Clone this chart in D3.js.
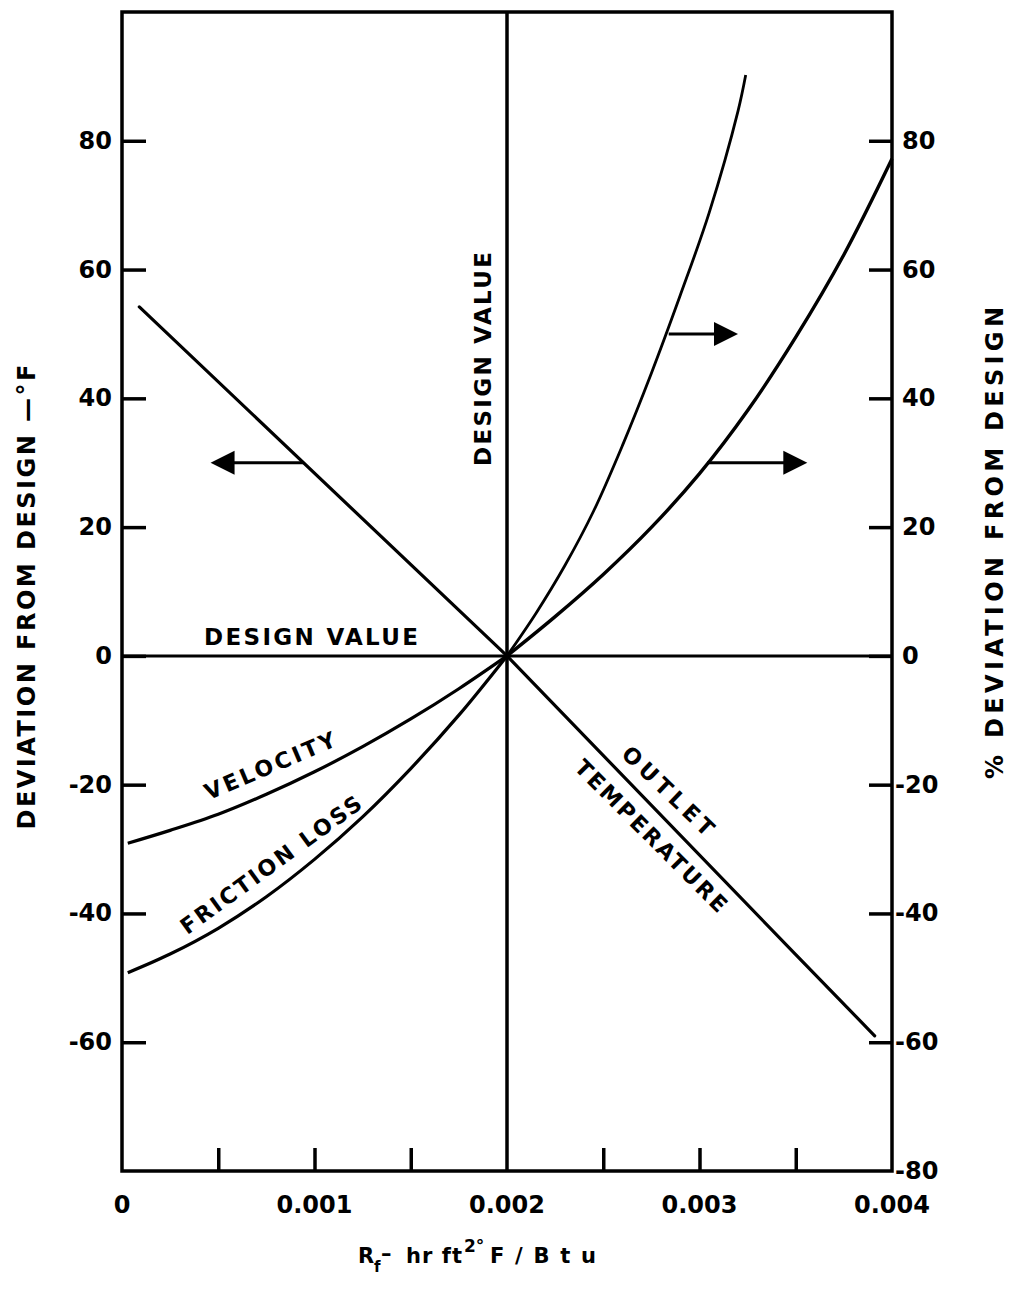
<!DOCTYPE html>
<html>
<head>
<meta charset="utf-8">
<script src="https://cdn.jsdelivr.net/npm/d3@7/dist/d3.min.js"></script>
<style>
  html, body { margin: 0; padding: 0; background: #fff; }
  svg { display: block; }
  text { font-family: "DejaVu Sans", sans-serif; font-weight: bold; fill: #000; }
</style>
</head>
<body>
<div id="chart"></div>
<script>
// ---------- data ----------
const xTickValues = [0, 0.001, 0.002, 0.003, 0.004];
const xTickLabels = ["0", "0.001", "0.002", "0.003", "0.004"];
const xMinorTicks = [0.0005, 0.001, 0.0015, 0.0025, 0.003, 0.0035];
const yTickValues = [80, 60, 40, 20, 0, -20, -40, -60];
const yRightTickValues = [80, 60, 40, 20, 0, -20, -40, -60, -80];

// Outlet temperature (left axis, deg F)
const outletRf  = [0.00009, 0.002, 0.0035, 0.00391];
const outletVal = [54.2, 0, -46.4, -59.0];

// Velocity (left axis)
const velocityRf  = [0.00003, 0.00025, 0.0005, 0.00075, 0.001, 0.00125, 0.0015, 0.00175, 0.002];
const velocityVal = [-29.1, -27.1, -24.6, -21.5, -18.0, -14.1, -9.8, -5.1, 0];

// Friction loss (left axis)
const frictionRf  = [0.00003, 0.00025, 0.0005, 0.00075, 0.001, 0.00125, 0.0015, 0.00175, 0.002];
const frictionVal = [-49.2, -46.3, -42.3, -37.4, -31.6, -25.0, -17.5, -9.2, 0];

// % deviation curves (right axis)
const steepRf  = [0.002, 0.00215, 0.0023, 0.00245, 0.0026, 0.00275, 0.0029, 0.00305, 0.0032, 0.00324];
const steepVal = [0, 6.6, 14.0, 22.5, 32.7, 43.9, 56.0, 68.8, 84.6, 90.2];

const gentleRf  = [0.002, 0.00225, 0.0025, 0.00275, 0.003, 0.00325, 0.0035, 0.00375, 0.004];
const gentleVal = [0, 6.1, 12.65, 19.95, 28.3, 38.1, 49.5, 62.3, 77.2];

// Arrows: y level, start Rf (on curve), tip Rf
const arrowY    = [30, 50, 30];
const arrowFrom = [0.000944, 0.00284, 0.00304];
const arrowTo   = [0.00046, 0.0032, 0.00356];

// ---------- layout ----------
const W = 1009, H = 1292;
const svg = d3.select("#chart").append("svg").attr("width", W).attr("height", H);

const x = d3.scaleLinear().domain([0, 0.004]).range([122, 892]);
const y = d3.scaleLinear().domain([-80, 100]).range([1171, 12]);

const ink = "#000";
const line = d3.line().x(d => x(d[0])).y(d => y(d[1]));
const smooth = d3.line().x(d => x(d[0])).y(d => y(d[1])).curve(d3.curveCatmullRom.alpha(0.5));
const zip = (a, b) => a.map((v, i) => [v, b[i]]);

// frame
svg.append("rect")
  .attr("x", x(0)).attr("y", y(100))
  .attr("width", x(0.004) - x(0)).attr("height", y(-80) - y(100))
  .attr("fill", "none").attr("stroke", ink).attr("stroke-width", 3.5);

// design value lines
svg.append("line").attr("x1", x(0)).attr("x2", x(0.004)).attr("y1", y(0)).attr("y2", y(0))
  .attr("stroke", ink).attr("stroke-width", 3);
svg.append("line").attr("x1", x(0.002)).attr("x2", x(0.002)).attr("y1", y(100)).attr("y2", y(-80))
  .attr("stroke", ink).attr("stroke-width", 3.5);

// left axis ticks (inward)
const leftAxis = d3.axisRight(y).tickValues(yTickValues).tickSize(24).tickFormat("");
const gL = svg.append("g").attr("transform", `translate(${x(0)},0)`).call(leftAxis);
gL.select(".domain").remove();
gL.selectAll(".tick line").attr("stroke", ink).attr("stroke-width", 3.5);

const fmt = d => d === 0 ? "0" : (d < 0 ? "-" + Math.abs(d) : String(d));

svg.selectAll(".ylab").data(yTickValues).enter().append("text")
  .attr("x", 112).attr("y", d => y(d)).attr("text-anchor", "end")
  .attr("dominant-baseline", "central").attr("font-size", 24)
  .text(fmt);

// right axis ticks (inward)
const rightAxis = d3.axisLeft(y).tickValues(yTickValues).tickSize(23).tickFormat("");
const gR = svg.append("g").attr("transform", `translate(${x(0.004)},0)`).call(rightAxis);
gR.select(".domain").remove();
gR.selectAll(".tick line").attr("stroke", ink).attr("stroke-width", 3.5);

svg.selectAll(".yrlab").data(yRightTickValues).enter().append("text")
  .attr("x", d => d < 0 ? 895 : 902).attr("y", d => y(d)).attr("text-anchor", "start")
  .attr("dominant-baseline", "central").attr("font-size", 24)
  .text(fmt);

// bottom ticks (upward)
const bottomAxis = d3.axisTop(x).tickValues(xMinorTicks).tickSize(23).tickFormat("");
const gB = svg.append("g").attr("transform", `translate(0,${y(-80)})`).call(bottomAxis);
gB.select(".domain").remove();
gB.selectAll(".tick line").attr("stroke", ink).attr("stroke-width", 3.5);

svg.selectAll(".xlab").data(xTickValues).enter().append("text")
  .attr("x", d => x(d)).attr("y", 1205).attr("text-anchor", "middle")
  .attr("dominant-baseline", "central").attr("font-size", 24)
  .text((d, i) => xTickLabels[i]);

// curves
svg.append("path").attr("d", line(zip(outletRf, outletVal)))
  .attr("fill", "none").attr("stroke", ink).attr("stroke-width", 3.2).attr("stroke-linecap", "round");
svg.append("path").attr("d", smooth(zip(velocityRf, velocityVal)))
  .attr("fill", "none").attr("stroke", ink).attr("stroke-width", 3.2);
svg.append("path").attr("d", smooth(zip(frictionRf, frictionVal)))
  .attr("fill", "none").attr("stroke", ink).attr("stroke-width", 3.2);
svg.append("path").attr("d", smooth(zip(steepRf, steepVal)))
  .attr("fill", "none").attr("stroke", ink).attr("stroke-width", 2.8);
svg.append("path").attr("d", smooth(zip(gentleRf, gentleVal)))
  .attr("fill", "none").attr("stroke", ink).attr("stroke-width", 3.4);

// arrows
arrowY.forEach((v, i) => {
  const x0 = x(arrowFrom[i]), x1 = x(arrowTo[i]), yy = y(v);
  const dir = x1 > x0 ? 1 : -1;
  const headLen = 24, headHalf = 12;
  svg.append("line").attr("x1", x0).attr("x2", x1 - dir * headLen * 0.8).attr("y1", yy).attr("y2", yy)
    .attr("stroke", ink).attr("stroke-width", 3);
  svg.append("path")
    .attr("d", `M${x1},${yy} L${x1 - dir * headLen},${yy - headHalf} L${x1 - dir * headLen},${yy + headHalf} Z`)
    .attr("fill", ink);
});

// annotation text
function label(txt, cx, cy, angle, size, len) {
  svg.append("text")
    .attr("transform", `translate(${cx},${cy}) rotate(${angle})`)
    .attr("text-anchor", "middle").attr("dominant-baseline", "central")
    .attr("font-size", size)
    .attr("textLength", len).attr("lengthAdjust", "spacing")
    .text(txt);
}
label("DESIGN VALUE", 311, 637, 0, 23, 214);
label("DESIGN VALUE", 483, 359, -90, 23, 214);
label("VELOCITY", 270, 766, -23, 22, 140);
label("FRICTION LOSS", 271, 865, -36, 22, 218);
label("OUTLET", 668, 791, 44, 22, 118);
label("TEMPERATURE", 651, 836, 45, 22, 205);
label("DEVIATION FROM DESIGN \u2014\u00B0F", 27, 597, -90, 24, 465);
label("% DEVIATION FROM DESIGN", 995, 543, -90, 24, 472);

// x axis title
const xt = svg.append("text").attr("y", 1263).attr("font-size", 21);
xt.append("tspan").attr("x", 358).text("R");
xt.append("tspan").attr("x", 374).attr("dy", 9).attr("font-size", 15).text("f");
xt.append("tspan").attr("x", 381).attr("dy", -11).text("\u2013");
xt.append("tspan").attr("x", 406).attr("dy", 2).attr("textLength", 56).attr("lengthAdjust", "spacing").text("hr ft");
xt.append("tspan").attr("x", 464).attr("dy", -11).attr("font-size", 17).text("2\u00B0");
xt.append("tspan").attr("x", 490).attr("dy", 11).attr("textLength", 106).attr("lengthAdjust", "spacing").text("F/Btu");
</script>
</body>
</html>
